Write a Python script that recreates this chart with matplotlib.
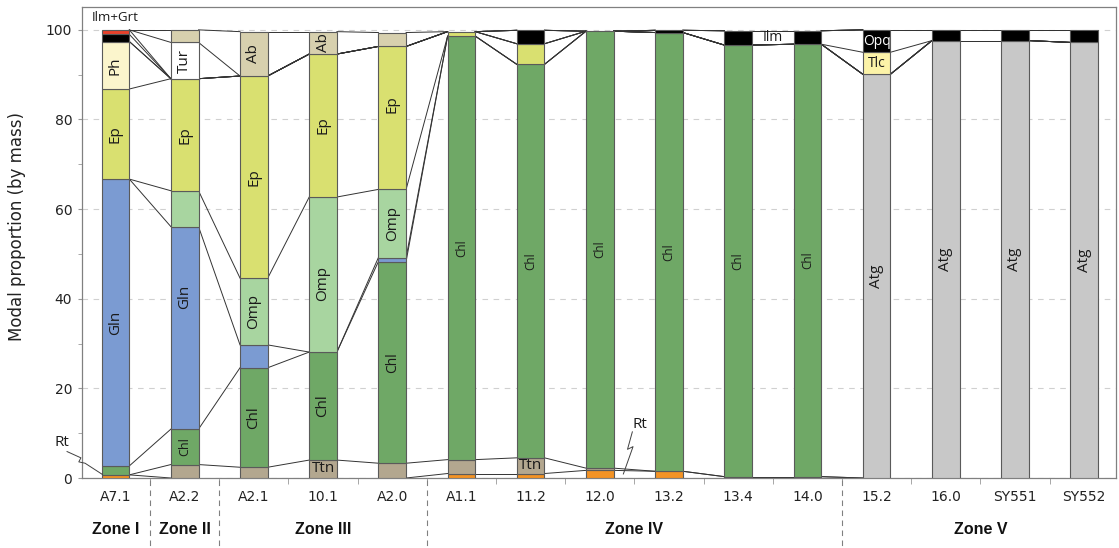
import matplotlib.pyplot as plt
import numpy as np
from matplotlib.transforms import blended_transform_factory

# sample names and metamorphic zones
samples = ['A7.1', 'A2.2', 'A2.1', '10.1', 'A2.0', 'A1.1', '11.2', '12.0',
           '13.2', '13.4', '14.0', '15.2', '16.0', 'SY551', 'SY552']
zones = ['Zone I', 'Zone II', 'Zone III', 'Zone IV', 'Zone V']
zone_first = [0, 1, 2, 5, 11]
zone_last = [0, 1, 4, 10, 14]

# modal proportions (wt%), one list per mineral
Rt  = [0.7, 0, 0, 0, 0, 1.0, 1.0, 1.7, 1.5, 0.3, 0.3, 0, 0, 0, 0]
Ttn = [0, 3.0, 2.4, 4.0, 3.3, 3.1, 3.5, 0.5, 0, 0, 0, 0, 0, 0, 0]
Chl = [2.0, 7.9, 22.2, 24.1, 45.0, 94.5, 87.8, 97.5, 97.9, 96.3, 96.5, 0, 0, 0, 0]
Atg = [0, 0, 0, 0, 0, 0, 0, 0, 0, 0, 0, 90.1, 97.6, 97.6, 97.2]
Gln = [64.0, 45.2, 5.1, 0, 0.9, 0, 0, 0, 0, 0, 0, 0, 0, 0, 0]
Omp = [0, 8.0, 14.9, 34.6, 15.2, 0, 0, 0, 0, 0, 0, 0, 0, 0, 0]
Ep  = [20.1, 25.0, 45.1, 31.9, 31.9, 1.0, 4.6, 0, 0, 0, 0, 0, 0, 0, 0]
Ph  = [10.6, 0, 0, 0, 0, 0, 0, 0, 0, 0, 0, 0, 0, 0, 0]
Tlc = [0, 0, 0, 0, 0, 0, 0, 0, 0, 0, 0, 4.9, 0, 0, 0]
Ilm = [1.6, 0, 0, 0, 0, 0, 3.0, 0, 0.5, 3.2, 3.0, 0, 0, 0, 0]
Opq = [0, 0, 0, 0, 0, 0, 0, 0, 0, 0, 0, 5.0, 2.4, 2.4, 2.8]
Grt = [1.0, 0, 0, 0, 0, 0, 0, 0, 0, 0, 0, 0, 0, 0, 0]
Tur = [0, 8.1, 0, 0, 0, 0, 0, 0, 0, 0, 0, 0, 0, 0, 0]
Ab  = [0, 2.8, 9.9, 5.0, 3.1, 0, 0, 0, 0, 0, 0, 0, 0, 0, 0]

minerals = {'Rt': Rt, 'Ttn': Ttn, 'Chl': Chl, 'Atg': Atg, 'Gln': Gln,
            'Omp': Omp, 'Ep': Ep, 'Ph': Ph, 'Tlc': Tlc, 'Ilm': Ilm,
            'Opq': Opq, 'Grt': Grt, 'Tur': Tur, 'Ab': Ab}

# minerals that never occur together share a slot for the tie lines
slots = [['Rt'], ['Ttn'], ['Chl', 'Atg'], ['Gln'], ['Omp'], ['Ep'], ['Ph'],
         ['Tlc'], ['Ilm', 'Opq'], ['Grt'], ['Tur'], ['Ab']]

colors = {'Rt': '#f39325', 'Ttn': '#b3a78f', 'Chl': '#6fa866', 'Atg': '#c8c8c8',
          'Gln': '#7b9bd2', 'Omp': '#a8d5a0', 'Ep': '#d9e070', 'Ph': '#fbf5cc',
          'Tlc': '#fcf3a8', 'Ilm': '#000000', 'Opq': '#000000', 'Grt': '#e8412b',
          'Tur': '#ffffff', 'Ab': '#d7d0ae'}

# labels written inside the bars
vert_labels = {'A7.1': ['Ph', 'Ep', 'Gln'], 'A2.2': ['Tur', 'Ep', 'Gln', 'Chl'],
               'A2.1': ['Ab', 'Ep', 'Omp', 'Chl'], '10.1': ['Ab', 'Ep', 'Omp', 'Chl'],
               'A2.0': ['Ep', 'Omp', 'Chl'], 'A1.1': ['Chl'], '11.2': ['Chl'],
               '12.0': ['Chl'], '13.2': ['Chl'], '13.4': ['Chl'], '14.0': ['Chl'],
               '15.2': ['Atg'], '16.0': ['Atg'], 'SY551': ['Atg'], 'SY552': ['Atg']}
horiz_labels = {'10.1': ['Ttn'], '11.2': ['Ttn'], '15.2': ['Tlc', 'Opq']}

label_size = {('A2.2', 'Chl'): 9, ('A2.0', 'Chl'): 10}
label_nudge = {('A2.2', 'Gln'): 7, ('A2.0', 'Ep'): 3, ('10.1', 'Omp'): -2}

x = np.arange(len(samples))
w = 0.4
lab_font = 'Open Sans'

fig = plt.figure(figsize=(11.19, 5.48), dpi=100)
ax = fig.add_axes([82 / 1119, 70 / 548, 1034 / 1119, 471 / 548])

# stacked bars
bottom = np.zeros(len(samples))
seg = {}
for name, vals in minerals.items():
    vals = np.array(vals, dtype=float)
    seg[name] = (bottom.copy(), bottom + vals)
    m = vals > 0
    ax.bar(x[m], vals[m], bottom=bottom[m], width=w, color=colors[name],
           edgecolor='#5a5a5a', linewidth=0.8, zorder=3)
    bottom = bottom + vals

# tie lines between neighbouring bars
top = np.zeros(len(samples))
for slot in slots:
    for name in slot:
        top = top + np.array(minerals[name], dtype=float)
    for i in range(len(samples) - 1):
        ax.plot([x[i] + w / 2, x[i + 1] - w / 2], [top[i], top[i + 1]],
                color='#333333', lw=0.7, zorder=2)

# text inside bars
for i, s in enumerate(samples):
    for name in vert_labels.get(s, []):
        lo, hi = seg[name][0][i], seg[name][1][i]
        if s in ['A1.1', '11.2', '12.0', '13.2', '13.4', '14.0']:
            fs = 8.5
        else:
            fs = label_size.get((s, name), 11)
        ax.text(x[i], (lo + hi) / 2 + label_nudge.get((s, name), 0), name,
                rotation=90, ha='center', va='center', fontsize=fs,
                family=lab_font, color='#1a1a1a', zorder=5)
    for name in horiz_labels.get(s, []):
        lo, hi = seg[name][0][i], seg[name][1][i]
        yc = (lo + hi) / 2
        fs = 10
        if name == 'Ttn':
            yc = hi - 1.8
            fs = 11
        ax.text(x[i], yc, name, ha='center', va='center', fontsize=fs,
                family=lab_font, color='white' if name == 'Opq' else '#1a1a1a',
                zorder=5)

ax.text(x[0], 102.7, 'Ilm+Grt', ha='center', va='center', fontsize=9.5,
        family=lab_font, color='#1a1a1a')
ax.text((x[9] + x[10]) / 2, 98.2, 'Ilm', ha='center', va='center', fontsize=10,
        family=lab_font, color='#1a1a1a')

# Rt callouts with broken leaders
ax.text(-0.77, 8.0, 'Rt', ha='center', va='center', fontsize=11,
        family=lab_font, color='#1a1a1a', clip_on=False)
ax.plot([-0.70, -0.50, -0.53, -0.44, -0.19], [5.9, 4.5, 3.6, 3.3, 0.8],
        color='#404040', lw=0.7, clip_on=False, zorder=4)
ax.text(7.58, 12.0, 'Rt', ha='center', va='center', fontsize=11,
        family=lab_font, color='#1a1a1a')
ax.plot([7.47, 7.40, 7.48, 7.34], [10.3, 6.4, 7.0, 0.9],
        color='#404040', lw=0.7, zorder=4)

# axes styling
ax.set_xlim(-0.484, 14.46)
ax.set_ylim(0, 105.1)
ax.set_yticks(np.arange(0, 101, 20))
ax.set_yticks(np.arange(10, 100, 20), minor=True)
ax.set_xticks(x)
ax.set_xticklabels(samples)
ax.set_xticks(x[:-1] + 0.5, minor=True)
ax.tick_params(axis='x', which='major', length=0, pad=8.5, labelsize=10,
               labelcolor='#222222')
ax.tick_params(axis='x', which='minor', length=4, color='#999999',
               direction='out')
ax.tick_params(axis='y', which='both', length=3, color='#999999',
               labelsize=10, labelcolor='#222222', pad=4)
for sp in ax.spines.values():
    sp.set_color('#808080')
    sp.set_linewidth(0.9)
ax.yaxis.grid(True, which='major', linestyle=(0, (5, 5)), color='#d0d0d0',
              lw=0.8, zorder=0)
ax.set_axisbelow(True)
ax.set_ylabel('Modal proportion (by mass)', fontsize=12, color='#222222')
ax.yaxis.set_label_coords(-0.054, 0.535)

# zone dividers and names below the axis
trans = blended_transform_factory(ax.transData, ax.transAxes)
for f in zone_first[1:]:
    ax.plot([f - 0.5, f - 0.5], [-0.005, -0.16], transform=trans,
            color='#808080', lw=0.8, linestyle=(0, (5, 4)), clip_on=False)
for name, a, b in zip(zones, zone_first, zone_last):
    ax.text((a + b) / 2, -0.11, name, transform=trans, ha='center',
            va='center', fontsize=11.5, fontweight='bold',
            family='Liberation Sans', color='#111111')

fig.savefig('out.png', dpi=100)
